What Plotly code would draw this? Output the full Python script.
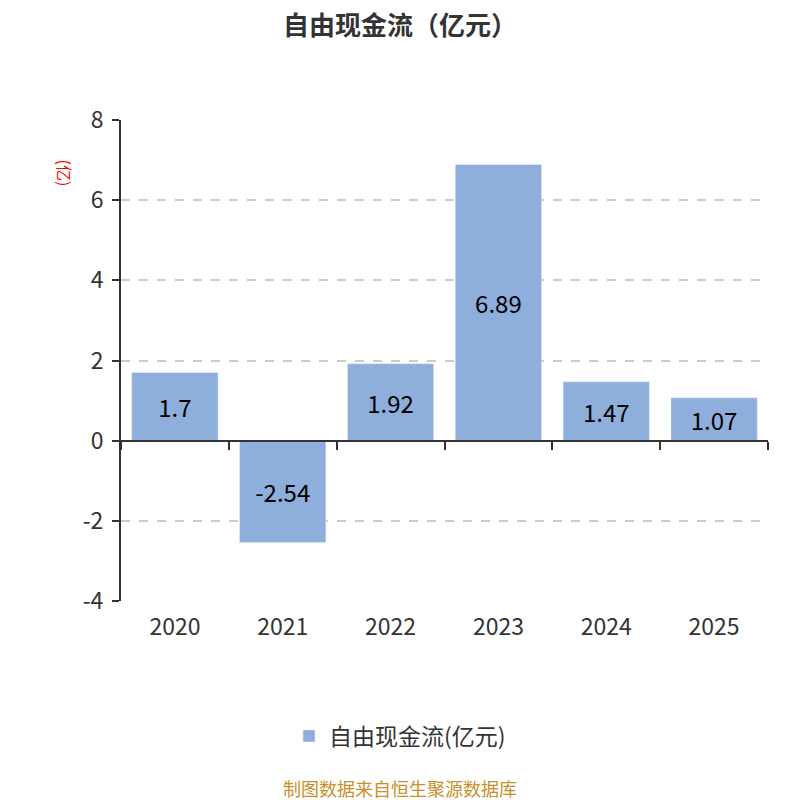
import plotly.graph_objects as go

# 自由现金流（亿元）
years = ["2020", "2021", "2022", "2023", "2024", "2025"]
fcf = [1.7, -2.54, 1.92, 6.89, 1.47, 1.07]
y_ticks = [-4, -2, 0, 2, 4, 6, 8]
y_tick_labels = ["-4", "-2", "0", "2", "4", "6", "8"]

FONT = "Noto Sans CJK SC, Noto Sans, sans-serif"
BAR_COLOR = "#8eaedb"

# page body has an 8px margin, so the figure is a bit smaller than the window
W = H = 792
ML, MR, MT, MB = 113, 32, 112, 199
PW = W - ML - MR
PH = H - MT - MB

fig = go.Figure()

fig.add_trace(
    go.Bar(
        x=years,
        y=fcf,
        name="自由现金流(亿元)",
        marker=dict(color=BAR_COLOR),
        text=[f"{v:g}" for v in fcf],
        textposition="inside",
        insidetextanchor="middle",
        textfont=dict(size=24, color="#000000", family=FONT),
        constraintext="none",
        width=0.8,
    )
)

# invisible copy on a second x axis, used only to draw the zero line with ticks
fig.add_trace(
    go.Scatter(
        x=years,
        y=fcf,
        xaxis="x2",
        mode="markers",
        marker=dict(opacity=0),
        showlegend=False,
        hoverinfo="skip",
    )
)

fig.update_layout(
    width=W,
    height=H,
    paper_bgcolor="white",
    plot_bgcolor="white",
    margin=dict(l=ML, r=MR, t=MT, b=MB),
    font=dict(family=FONT, color="#333333"),
    bargap=0.2,
    showlegend=True,
    legend=dict(
        orientation="h",
        x=(392 - ML) / PW,
        xanchor="center",
        y=(MT + PH - 728) / PH,
        yanchor="middle",
        font=dict(size=23, color="#333333", family=FONT),
    ),
    xaxis=dict(
        type="category",
        categoryorder="array",
        categoryarray=years,
        showline=False,
        ticks="",
        showgrid=False,
        tickfont=dict(size=23, color="#333333"),
        ticklabelstandoff=10,
        zeroline=False,
    ),
    xaxis2=dict(
        type="category",
        categoryorder="array",
        categoryarray=years,
        overlaying="x",
        matches="x",
        anchor="free",
        position=4 / 12,
        side="bottom",
        showline=True,
        linecolor="#333333",
        linewidth=2,
        ticks="outside",
        tickson="boundaries",
        ticklen=8,
        tickwidth=2,
        tickcolor="#333333",
        showticklabels=False,
        showgrid=False,
    ),
    yaxis=dict(
        range=[-4, 8],
        tickvals=y_ticks,
        ticktext=y_tick_labels,
        showline=True,
        linecolor="#333333",
        linewidth=2,
        ticks="outside",
        ticklen=7,
        tickwidth=2,
        tickcolor="#333333",
        tickfont=dict(size=23, color="#333333"),
        ticklabelstandoff=4,
        showgrid=True,
        gridcolor="#cccccc",
        griddash="dash",
        gridwidth=1.5,
        zeroline=False,
    ),
)

# title as an annotation
fig.add_annotation(
    text="<b>自由现金流（亿元）</b>",
    xref="paper",
    yref="paper",
    x=(392 - ML) / PW,
    y=(MT + PH - 15) / PH,
    xanchor="center",
    yanchor="middle",
    showarrow=False,
    font=dict(size=26, color="#333333", family=FONT),
)

fig.add_annotation(
    text="(亿)",
    xref="paper",
    yref="paper",
    x=(42 - ML) / PW,
    y=(MT + PH - 149) / PH,
    showarrow=False,
    textangle=90,
    font=dict(size=16, color="#ff0000", family=FONT),
)

fig.add_annotation(
    text="制图数据来自恒生聚源数据库",
    xref="paper",
    yref="paper",
    x=(392 - ML) / PW,
    y=(MT + PH - 780) / PH,
    xanchor="center",
    yanchor="middle",
    showarrow=False,
    font=dict(size=18, color="#c8902a", family=FONT),
)

fig.write_html("out.html")
